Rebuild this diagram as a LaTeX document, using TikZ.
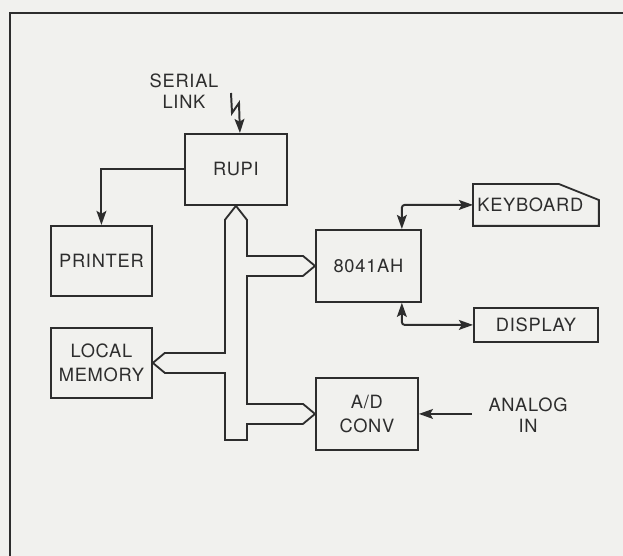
\documentclass[tikz,border=0pt]{standalone}
\usepackage{fontspec}
\setmainfont[LetterSpace=4]{TeX Gyre Heros}
\usetikzlibrary{arrows.meta,calc}
\definecolor{ink}{RGB}{45,45,45}
\definecolor{paper}{RGB}{241,241,238}

\begin{document}
\begin{tikzpicture}[
  x=0.025cm, y=-0.025cm,
  font=\fontsize{13}{16.5}\selectfont, text=ink,
  unit/.style={draw=ink, line width=1.3pt, align=center, inner sep=0pt},
  plain/.style={line width=1.3pt, align=center, inner sep=0pt},
  outline/.style={draw=ink, line width=1.3pt},
  tag/.style={align=center, font=\fontsize{13}{15}\selectfont},
  link/.style={draw=ink, line width=1.4pt, -{Stealth[length=10pt,width=7pt,inset=2pt]}},
  bidir/.style={draw=ink, line width=1.4pt, rounded corners=2pt, {Stealth[length=10pt,width=7pt,inset=2pt]}-{Stealth[length=10pt,width=7pt,inset=2pt]}},
  bus/.style={draw=ink, line width=1.3pt, line join=miter}
]
\useasboundingbox (0,0) rectangle (623,556);
\fill[paper] (0,0) rectangle (623,556);
\draw[ink, line width=1.3pt] (10,556) -- (10,13) -- (623,13);

% boxes
\node[unit, minimum width=2.55cm, minimum height=1.775cm, anchor=north west] (rupi) at (184,133) {RUPI};
\node[unit, minimum width=2.525cm, minimum height=1.75cm, anchor=north west] (printer) at (50,225) {PRINTER};
\node[unit, minimum width=2.525cm, minimum height=1.75cm, anchor=north west] (mem) at (50,327) {LOCAL\\MEMORY};
\node[unit, minimum width=2.625cm, minimum height=1.8cm, anchor=north west] (mcu) at (315,229) {8041AH};
\node[unit, minimum width=2.55cm, minimum height=1.8cm, anchor=north west] (adc) at (315,377) {A/D\\CONV};
\node[plain, minimum width=3.1cm, minimum height=1cm, anchor=north west] (kbd) at (473,184) {KEYBOARD\kern 8pt};
\draw[outline] (kbd.south west) -- (kbd.north west) -- ([xshift=-1cm]kbd.north east)
  -- ([yshift=-0.4cm]kbd.north east) -- (kbd.south east) -- cycle;
\node[unit, minimum width=3.1cm, minimum height=0.85cm, anchor=north west] (disp) at (473,307) {DISPLAY};

% labels
\node[tag] (serial) at (184,91) {SERIAL\\LINK};
\node[tag] (analog) at (528,415) {ANALOG\\IN};
\coordinate (spark) at (231,93);

% connectors
\draw[link] (spark) -- ++(1,20) -- ++(7,-10) -- ([xshift=0.1cm]rupi.north);
\draw[link] (rupi.west) -| (printer.north);
\draw[bidir] (kbd.west) -| ([xshift=-0.5cm]mcu.north east);
\draw[bidir] ([xshift=-0.5cm]mcu.south east) |- (disp.west);
\draw[link] ([xshift=-0.3cm]adc.east -| analog.west) -- (adc.east);

% bus
\path (rupi.south) ++(11,14) coordinate (busR) ++(-22,0) coordinate (busL);
\path (mcu.west) ++(-12,-10) coordinate (m1) ++(0,20) coordinate (m2);
\path (adc.west) ++(-12,-10) coordinate (a1) ++(0,20) coordinate (a2);
\path (mem.east) ++(12,-10) coordinate (l1) ++(0,20) coordinate (l2);
\draw[bus] (rupi.south) -- (busR) |- (m1) -- (mcu.west) -- (m2)
  -| (busR |- a1) -- (a1) -- (adc.west) -- (a2) -- (busR |- a2) -- ++(0,16)
  -| (busL |- l2) -- (l2) -- (mem.east) -- (l1) -| (busL) -- cycle;
\end{tikzpicture}
\end{document}
